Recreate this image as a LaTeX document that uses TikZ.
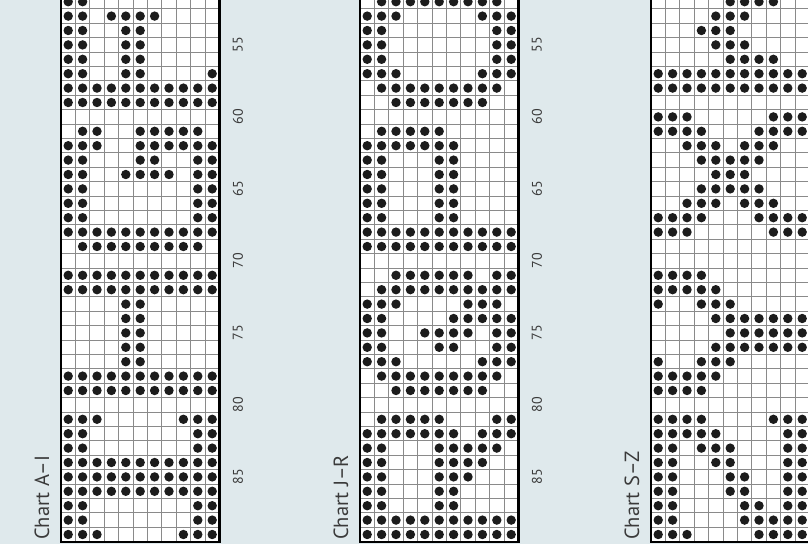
\documentclass[tikz,border=0pt]{standalone}
\usepackage{fontspec}
\setmainfont{PT Sans}
\definecolor{bg}{HTML}{DFE9EC}
\definecolor{gridc}{HTML}{8A8A8A}
\definecolor{dotc}{HTML}{1C1C1C}
\definecolor{txt}{HTML}{3A3A3A}
\tikzset{
  gridline/.style={draw=gridc,line width=0.9pt},
  chartborder/.style={draw=black,line width=2.4pt},
  numlab/.style={rotate=90,text=txt,inner sep=0pt,font=\fontsize{14}{14}\selectfont},
  chartlab/.style={rotate=90,text=txt,inner sep=0pt,anchor=base west,font=\fontsize{20.5}{20.5}\selectfont},
}
\newcommand\chartgrid[2]{% #1 left x, #2 id
  \fill[white] (#1,-6) rectangle ({#1+158.4},541.7);
  \foreach \i in {1,...,10} \draw[gridline] ({#1+14.4*\i},-6) -- ({#1+14.4*\i},541.7);
  \foreach \j in {1,...,37} \draw[gridline] (#1,{-5.5+14.4*\j}) -- ({#1+158.4},{-5.5+14.4*\j});
  \draw[chartborder] (#1,-10) -- (#1,541.7) -- ({#1+158.4},541.7) -- ({#1+158.4},-10);
}
\newcommand\chartnums[2]{%
  \foreach \n in {55,60,...,85} \node[numlab] (num#2\n) at ({#1+158.4+18.5},{1.7+14.4*(\n-52)}) {\n};
}
\newcommand\dotrow[3]{% #1 left x, #2 row, #3 cols
  \foreach \c in {#3} {\fill[dotc] ({#1+7.2+14.4*\c},{1.7+14.4*(#2-52)}) circle (4.7pt);}}
\begin{document}
\begin{tikzpicture}[x=1pt,y=-1pt]
\clip (0,0) rectangle (808,544);
\fill[bg] (0,0) rectangle (808,544);
% ---------- Chart A-I ----------
\def\L{61}
\chartgrid{\L}{a}
\chartnums{\L}{a}
\node[chartlab] (labA) at (\L-12,540) {Chart A–I};
\dotrow{\L}{52}{0,1}
\dotrow{\L}{53}{0,1,3,4,5,6}
\dotrow{\L}{54}{0,1,4,5}
\dotrow{\L}{55}{0,1,4,5}
\dotrow{\L}{56}{0,1,4,5}
\dotrow{\L}{57}{0,1,4,5,10}
\dotrow{\L}{58}{0,1,2,3,4,5,6,7,8,9,10}
\dotrow{\L}{59}{0,1,2,3,4,5,6,7,8,9,10}
\dotrow{\L}{61}{1,2,5,6,7,8,9}
\dotrow{\L}{62}{0,1,2,5,6,7,8,9,10}
\dotrow{\L}{63}{0,1,5,6,9,10}
\dotrow{\L}{64}{0,1,4,5,6,7,9,10}
\dotrow{\L}{65}{0,1,9,10}
\dotrow{\L}{66}{0,1,9,10}
\dotrow{\L}{67}{0,1,9,10}
\dotrow{\L}{68}{0,1,2,3,4,5,6,7,8,9,10}
\dotrow{\L}{69}{1,2,3,4,5,6,7,8,9}
\dotrow{\L}{71}{0,1,2,3,4,5,6,7,8,9,10}
\dotrow{\L}{72}{0,1,2,3,4,5,6,7,8,9,10}
\dotrow{\L}{73}{4,5}
\dotrow{\L}{74}{4,5}
\dotrow{\L}{75}{4,5}
\dotrow{\L}{76}{4,5}
\dotrow{\L}{77}{4,5}
\dotrow{\L}{78}{0,1,2,3,4,5,6,7,8,9,10}
\dotrow{\L}{79}{0,1,2,3,4,5,6,7,8,9,10}
\dotrow{\L}{81}{0,1,2,8,9,10}
\dotrow{\L}{82}{0,1,9,10}
\dotrow{\L}{83}{0,1,9,10}
\dotrow{\L}{84}{0,1,2,3,4,5,6,7,8,9,10}
\dotrow{\L}{85}{0,1,2,3,4,5,6,7,8,9,10}
\dotrow{\L}{86}{0,1,2,3,4,5,6,7,8,9,10}
\dotrow{\L}{87}{0,1,9,10}
\dotrow{\L}{88}{0,1,9,10}
\dotrow{\L}{89}{0,1,2,8,9,10}
% ---------- Chart J-R ----------
\def\L{360}
\chartgrid{\L}{b}
\chartnums{\L}{b}
\node[chartlab] (labB) at (\L-12,540) {Chart J–R};
\dotrow{\L}{52}{1,2,3,4,5,6,7,8,9}
\dotrow{\L}{53}{0,1,2,8,9,10}
\dotrow{\L}{54}{0,1,9,10}
\dotrow{\L}{55}{0,1,9,10}
\dotrow{\L}{56}{0,1,9,10}
\dotrow{\L}{57}{0,1,2,8,9,10}
\dotrow{\L}{58}{1,2,3,4,5,6,7,8,9}
\dotrow{\L}{59}{2,3,4,5,6,7,8}
\dotrow{\L}{61}{1,2,3,4,5}
\dotrow{\L}{62}{0,1,2,3,4,5,6}
\dotrow{\L}{63}{0,1,5,6}
\dotrow{\L}{64}{0,1,5,6}
\dotrow{\L}{65}{0,1,5,6}
\dotrow{\L}{66}{0,1,5,6}
\dotrow{\L}{67}{0,1,5,6}
\dotrow{\L}{68}{0,1,2,3,4,5,6,7,8,9,10}
\dotrow{\L}{69}{0,1,2,3,4,5,6,7,8,9,10}
\dotrow{\L}{71}{2,3,4,5,6,7,9,10}
\dotrow{\L}{72}{1,2,3,4,5,6,7,8,9,10}
\dotrow{\L}{73}{0,1,2,7,8,9}
\dotrow{\L}{74}{0,1,6,7,8,9,10}
\dotrow{\L}{75}{0,1,4,5,6,7,9,10}
\dotrow{\L}{76}{0,1,5,6,9,10}
\dotrow{\L}{77}{0,1,2,8,9,10}
\dotrow{\L}{78}{1,2,3,4,5,6,7,8,9}
\dotrow{\L}{79}{2,3,4,5,6,7,8}
\dotrow{\L}{81}{1,2,3,4,5,9,10}
\dotrow{\L}{82}{0,1,2,3,4,5,6,8,9,10}
\dotrow{\L}{83}{0,1,5,6,7,8,9}
\dotrow{\L}{84}{0,1,5,6,7,8}
\dotrow{\L}{85}{0,1,5,6,7}
\dotrow{\L}{86}{0,1,5,6}
\dotrow{\L}{87}{0,1,5,6}
\dotrow{\L}{88}{0,1,2,3,4,5,6,7,8,9,10}
\dotrow{\L}{89}{0,1,2,3,4,5,6,7,8,9,10}
% ---------- Chart S-Z ----------
\def\L{651}
\chartgrid{\L}{c}
\node[chartlab] (labC) at (\L-12,540) {Chart S–Z};
\dotrow{\L}{52}{5,6,7,8}
\dotrow{\L}{53}{4,5,6}
\dotrow{\L}{54}{3,4,5}
\dotrow{\L}{55}{4,5,6}
\dotrow{\L}{56}{5,6,7,8}
\dotrow{\L}{57}{0,1,2,3,4,5,6,7,8,9,10}
\dotrow{\L}{58}{0,1,2,3,4,5,6,7,8,9,10}
\dotrow{\L}{60}{0,1,2,8,9,10}
\dotrow{\L}{61}{0,1,2,3,7,8,9,10}
\dotrow{\L}{62}{2,3,4,6,7,8}
\dotrow{\L}{63}{3,4,5,6,7}
\dotrow{\L}{64}{4,5,6}
\dotrow{\L}{65}{3,4,5,6,7}
\dotrow{\L}{66}{2,3,4,6,7,8}
\dotrow{\L}{67}{0,1,2,3,7,8,9,10}
\dotrow{\L}{68}{0,1,2,8,9,10}
\dotrow{\L}{71}{0,1,2,3}
\dotrow{\L}{72}{0,1,2,3,4}
\dotrow{\L}{73}{0,3,4,5}
\dotrow{\L}{74}{4,5,6,7,8,9,10}
\dotrow{\L}{75}{5,6,7,8,9,10}
\dotrow{\L}{76}{4,5,6,7,8,9,10}
\dotrow{\L}{77}{0,3,4,5}
\dotrow{\L}{78}{0,1,2,3,4}
\dotrow{\L}{79}{0,1,2,3}
\dotrow{\L}{81}{0,1,2,3,8,9,10}
\dotrow{\L}{82}{0,1,2,3,4,9,10}
\dotrow{\L}{83}{0,1,3,4,5,9,10}
\dotrow{\L}{84}{0,1,4,5,9,10}
\dotrow{\L}{85}{0,1,5,6,9,10}
\dotrow{\L}{86}{0,1,5,6,9,10}
\dotrow{\L}{87}{0,1,6,7,9,10}
\dotrow{\L}{88}{0,1,6,7,8,9,10}
\dotrow{\L}{89}{0,1,2,7,8,9,10}
\end{tikzpicture}
\end{document}
